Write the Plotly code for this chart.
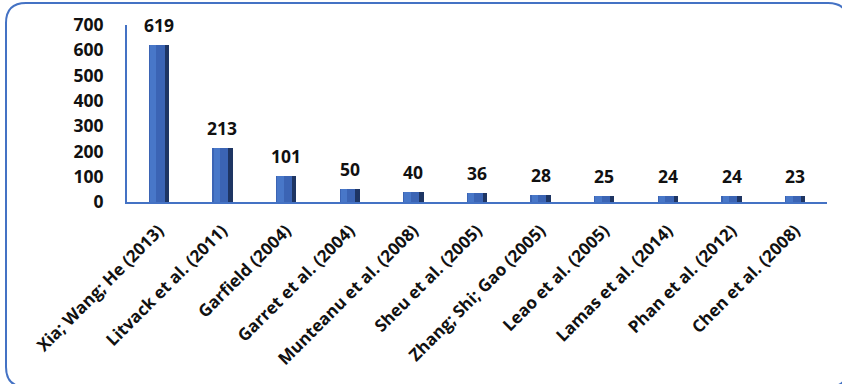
import plotly.graph_objects as go

authors = ["Xia; Wang; He (2013)", "Litvack et al. (2011)", "Garfield (2004)",
           "Garret et al. (2004)", "Munteanu et al. (2008)", "Sheu et al. (2005)",
           "Zhang; Shi; Gao (2005)", "Leao et al. (2005)", "Lamas et al. (2014)",
           "Phan et al. (2012)", "Chen et al. (2008)"]
citations = [619, 213, 101, 50, 40, 36, 28, 25, 24, 24, 23]
y_ticks = [0, 100, 200, 300, 400, 500, 600, 700]

W, H = 842, 384
L, R, T, B = 127, 15, 25, 182
PW, PH = W - L - R, H - T - B

def px(x):
    return (x - L) / PW

def py(y):
    return (H - B - y) / PH

FONT = "Open Sans"
BLUE = "#4472C4"

fig = go.Figure()
layers = [
    dict(offset=-0.16, width=0.32, color="#1E3563"),
    dict(offset=-0.16, width=0.25, color="#3B64B4"),
    dict(offset=-0.14, width=0.10, color="#4877C8"),
]
for ly in layers:
    fig.add_trace(go.Bar(x=authors, y=citations, offset=ly["offset"], width=ly["width"],
                         marker=dict(color=ly["color"], line=dict(width=0)),
                         hoverinfo="skip", showlegend=False))

for a, v in zip(authors, citations):
    fig.add_annotation(x=a, y=v, text=str(v), showarrow=False, yshift=20,
                       font=dict(family=FONT, size=17.5, color="#111111", weight="bold"))

# rounded frame
x0, x1, y0, y1, r = 6, 848, 3, 387, 20
path = (f"M {px(x0+r)},{py(y0)} L {px(x1-r)},{py(y0)} Q {px(x1)},{py(y0)} {px(x1)},{py(y0+r)} "
        f"L {px(x1)},{py(y1-r)} Q {px(x1)},{py(y1)} {px(x1-r)},{py(y1)} "
        f"L {px(x0+r)},{py(y1)} Q {px(x0)},{py(y1)} {px(x0)},{py(y1-r)} "
        f"L {px(x0)},{py(y0+r)} Q {px(x0)},{py(y0)} {px(x0+r)},{py(y0)} Z")
fig.add_shape(type="path", path=path, xref="paper", yref="paper",
              line=dict(color=BLUE, width=2))

fig.update_layout(
    width=W, height=H, barmode="overlay",
    margin=dict(l=L, r=R, t=T, b=B),
    paper_bgcolor="white", plot_bgcolor="white",
    bargap=0,
    xaxis=dict(showline=True, linecolor=BLUE, linewidth=2, tickangle=-45,
               showgrid=False, ticks="", ticklabelstandoff=10,
               tickfont=dict(family=FONT, size=17, color="#111111", weight="bold")),
    yaxis=dict(range=[0, 700], tickvals=y_ticks, showline=True, linecolor=BLUE,
               linewidth=2, showgrid=False, zeroline=False, ticks="",
               ticklabelstandoff=18,
               tickfont=dict(family=FONT, size=17.5, color="#111111", weight="bold")),
)
fig.write_html("out.html")
